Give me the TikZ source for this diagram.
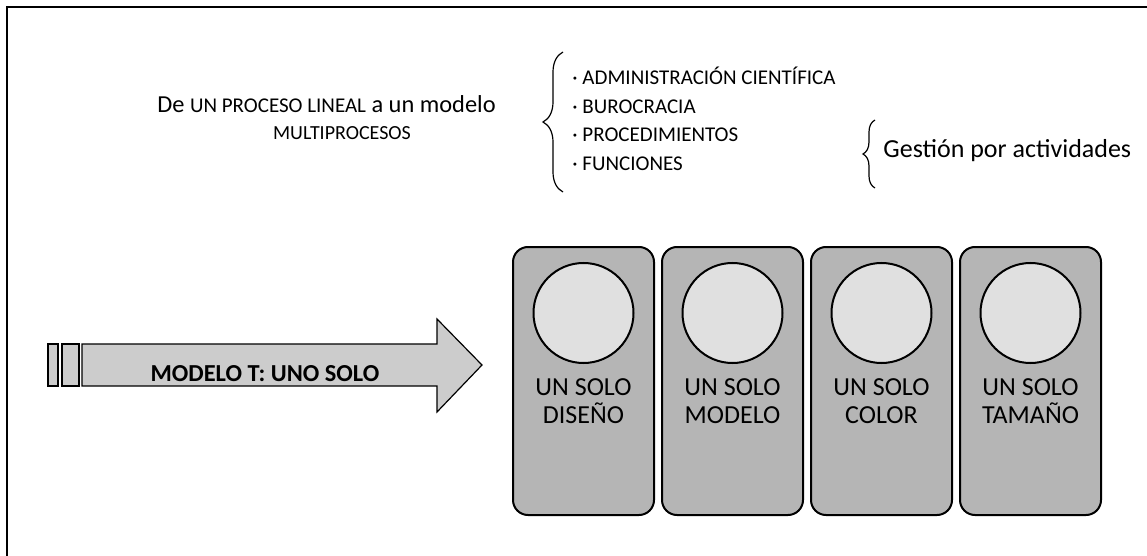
\documentclass[tikz,border=0pt]{standalone}
\usepackage{fontspec}
\setmainfont{Carlito}
\usetikzlibrary{decorations.pathreplacing}

\definecolor{boxgray}{gray}{0.71}
\definecolor{dotgray}{gray}{0.88}
\definecolor{arrowgray}{gray}{0.80}

\tikzset{
  solobox/.style={draw, line width=1pt, fill=boxgray, rounded corners=7.5pt,
    minimum width=70.5pt, minimum height=134pt, inner sep=0pt},
  solodot/.style={draw, line width=1pt, fill=dotgray, circle, minimum size=50pt, inner sep=0pt},
  solotext/.style={anchor=base, align=center, inner sep=0pt, font=\fontsize{13}{14}\selectfont},
  listitem/.style={anchor=base west, font=\fontsize{10.5}{11}\selectfont, inner sep=0pt},
  bigbrace/.style={decorate, decoration={brace, amplitude=#1}, line width=0.6pt},
}

\begin{document}
\begin{tikzpicture}[x=0.5pt,y=-0.5pt]
\useasboundingbox (0,0) rectangle (1147,556);
\draw[line width=0.7pt] (7,556) -- (7,7) -- (1147,7);
% titulo
\node[anchor=base west, inner sep=0pt, font=\fontsize{12.2}{13}\selectfont] (titulo) at (157,113)
  {De {\fontsize{10.5}{11}\selectfont UN PROCESO LINEAL} a un modelo};
\node[anchor=base, inner sep=0pt, font=\fontsize{10}{11}\selectfont] (multi) at (342,140) {MULTIPROCESOS};
% lista
\draw[bigbrace=10pt] (563,192) -- (563,52);
\foreach \y/\item [count=\n] in {85/ADMINISTRACIÓN CIENTÍFICA, 114/BUROCRACIA, 142/PROCEDIMIENTOS, 170/FUNCIONES}
    \node[listitem] (item\n) at (572,\y) {· \item};
\draw[bigbrace=6pt] (875,188) -- (875,120);
\node[anchor=base west, inner sep=0pt, font=\fontsize{13}{14}\selectfont] (gestion) at (883,158) {Gestión por actividades};
% flecha
\draw[line width=0.6pt, fill=arrowgray] (48,344) rectangle (58,386);
\draw[line width=0.6pt, fill=arrowgray] (62,344) rectangle (79,386);
\draw[line width=0.6pt, fill=arrowgray] (82,344) -- (437,344) -- (437,319) -- (482,365)
  -- (437,412) -- (437,386) -- (82,386) -- cycle;
\node[anchor=base, inner sep=0pt, font=\fontsize{12.2}{14}\selectfont\bfseries] (modelo) at (265,381) {MODELO T: UNO SOLO};
% cajas
\foreach \txt [count=\i] in {DISEÑO, MODELO, COLOR, TAMAÑO} {
    \node[solobox] (caja\i) at ({583.5+149*(\i-1)},381) {};
    \node[solodot] (punto\i) at ({583.5+149*(\i-1)},313) {};
    \node[solotext] (texto\i) at ({583.5+149*(\i-1)},423) {UN SOLO\\\txt};
}
\end{tikzpicture}
\end{document}
